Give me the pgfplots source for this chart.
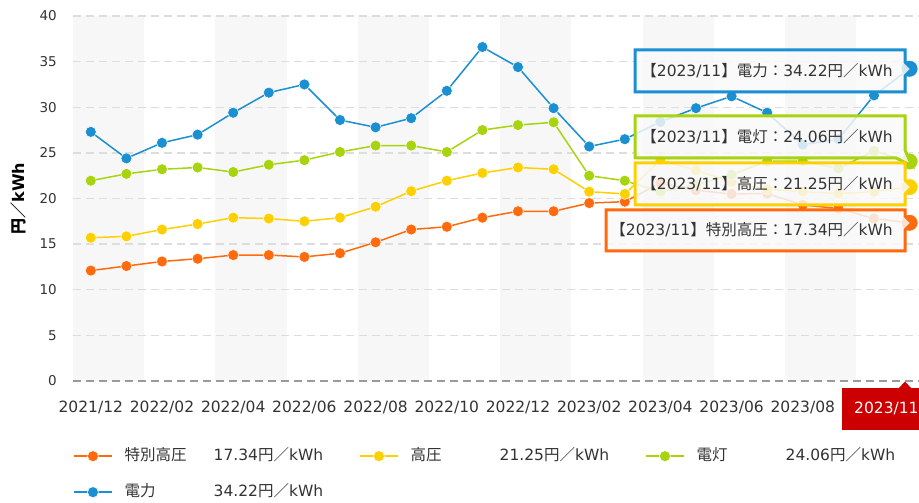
\documentclass[border=0pt]{standalone}
\usepackage{pgfplots}
\pgfplotsset{compat=1.18}
\usepackage{pgfplotstable}
\usepackage{fontspec}
\setmainfont{DejaVu Sans}
\newfontfamily\jp{Noto Sans CJK JP}
\usetikzlibrary{shadows}

\definecolor{cOr}{HTML}{FF6A0D}
\definecolor{cYe}{HTML}{FFD000}
\definecolor{cGr}{HTML}{A8D30F}
\definecolor{cBl}{HTML}{1A8FD2}
\definecolor{cRed}{HTML}{CC0000}
\definecolor{cTxt}{HTML}{333333}
\definecolor{cGrid}{HTML}{DDDDDD}
\definecolor{cZero}{HTML}{9A9A9A}
\definecolor{cBand}{HTML}{F7F7F7}

\pgfplotstableread{
m tok koatsu dento denryoku
0 12.1 15.7 21.95 27.3
1 12.6 15.85 22.7 24.4
2 13.1 16.6 23.2 26.1
3 13.4 17.2 23.4 27.0
4 13.8 17.9 22.9 29.4
5 13.8 17.8 23.7 31.6
6 13.6 17.5 24.2 32.5
7 14.0 17.9 25.1 28.6
8 15.2 19.1 25.8 27.8
9 16.6 20.8 25.8 28.8
10 16.9 21.95 25.1 31.8
11 17.9 22.8 27.5 36.6
12 18.6 23.4 28.05 34.4
13 18.6 23.2 28.35 29.9
14 19.5 20.75 22.5 25.7
15 19.65 20.5 21.95 26.5
16 21.7 24.2 20.75 28.4
17 20.9 23.1 21.5 29.9
18 20.5 21.8 22.6 31.2
19 20.55 21.0 24.1 29.4
20 19.3 20.75 24.1 25.9
21 18.9 20.55 23.3 26.5
22 17.8 20.75 25.2 31.3
23 17.34 21.25 24.06 34.22
}\data

\newcommand\PX[2]{([shift={({(#1-73)*1pt},{(381-#2)*1pt})}]rel axis cs:0,0)}
\newcommand\tipfont{\fontsize{15.5}{18}\selectfont}

\begin{document}
\begin{tikzpicture}
\begin{axis}[
  set layers,
  scale only axis, width=854.4pt, height=365pt,
  xmin=-0.5, xmax=23.5, ymin=0, ymax=40,
  clip=false,
  axis line style={draw=none},
  major tick length=0pt,
  xtick={0,2,...,20},
  xticklabels={2021/12,2022/02,2022/04,2022/06,2022/08,2022/10,2022/12,2023/02,2023/04,2023/06,2023/08},
  ytick={5,10,...,40},
  extra y ticks={0},
  extra y tick style={ymajorgrids=true, grid style={color=cZero, dash pattern=on 8pt off 5pt, line width=1.3pt}},
  ymajorgrids,
  grid style={color=cGrid, dash pattern=on 8pt off 5pt, line width=1.3pt},
  /pgf/number format/assume math mode=true,
  x tick label style={font=\fontsize{15.5}{18}\selectfont, text=cTxt, anchor=base, inner sep=0pt, yshift=-32pt},
  y tick label style={font=\fontsize{13.5}{16}\selectfont, text=cTxt, anchor=east, inner sep=0pt, xshift=-16pt},
  ylabel={{\jp\bfseries 円／}\textbf{kWh}},
  ylabel style={at={(axis description cs:-0.0644,0.5)}, anchor=center, font=\fontsize{16}{18}\selectfont},
  legend columns=3,
  legend cell align=left,
  legend image code/.code={\draw[mark repeat=2,mark phase=2,#1] plot coordinates {(0pt,0pt) (19pt,0pt) (38pt,0pt)};},
  legend style={draw=none, fill=none, at={(0,-0.1849)}, anchor=north west, inner sep=0pt, row sep=21pt, column sep=0pt,
    font=\fontsize{15.5}{18}\selectfont,
    nodes={inner sep=0pt, text height=12pt, text depth=3pt, text=cTxt},
    /tikz/every odd column/.append style={column sep=12pt}},
]
\begin{pgfonlayer}{axis background}
  \fill[cBand] (axis cs:-0.5,0) rectangle (axis cs:1.5,40);
  \fill[cBand] (axis cs:3.5,0) rectangle (axis cs:5.5,40);
  \fill[cBand] (axis cs:7.5,0) rectangle (axis cs:9.5,40);
  \fill[cBand] (axis cs:11.5,0) rectangle (axis cs:13.5,40);
  \fill[cBand] (axis cs:15.5,0) rectangle (axis cs:17.5,40);
  \fill[cBand] (axis cs:19.5,0) rectangle (axis cs:21.5,40);
\end{pgfonlayer}

\addplot[cOr, line width=1.5pt, mark=*, mark size=5.5pt, mark options={fill=cOr, draw=white, line width=0.5pt}] table[x=m,y=tok]{\data};
\addlegendentry{\makebox[234.5pt][l]{\makebox[89pt][l]{\jp 特別高圧}17.34{\jp 円／}kWh}}
\addplot[cYe, line width=1.5pt, mark=*, mark size=5.5pt, mark options={fill=cYe, draw=white, line width=0.5pt}] table[x=m,y=koatsu]{\data};
\addlegendentry{\makebox[234.5pt][l]{\makebox[89pt][l]{\jp 高圧}21.25{\jp 円／}kWh}}
\addplot[cGr, line width=1.5pt, mark=*, mark size=5.5pt, mark options={fill=cGr, draw=white, line width=0.5pt}] table[x=m,y=dento]{\data};
\addlegendentry{\makebox[234.5pt][l]{\makebox[89pt][l]{\jp 電灯}24.06{\jp 円／}kWh}}
\addplot[cBl, line width=1.5pt, mark=*, mark size=5.5pt, mark options={fill=cBl, draw=white, line width=0.5pt}] table[x=m,y=denryoku]{\data};
\addlegendentry{\makebox[234.5pt][l]{\makebox[89pt][l]{\jp 電力}34.22{\jp 円／}kWh}}

% tooltips
\begin{pgfonlayer}{axis descriptions}
\draw[cBl, line width=3pt, fill=white, fill opacity=0.8, line join=miter, drop shadow={shadow xshift=1.5pt, shadow yshift=-1.5pt, opacity=0.2}]
  \PX{635}{50} -- \PX{905}{50} -- \PX{905}{62} -- \PX{912}{69} -- \PX{905}{76} -- \PX{905}{92} -- \PX{635}{92} -- cycle;
\node[anchor=east, text=cTxt, font=\tipfont, inner sep=0pt] at \PX{893}{71} {{\jp 【}2023/11{\jp 】電力：}34.22{\jp 円／}kWh};

\draw[cGr, line width=3pt, fill=white, fill opacity=0.8, line join=miter, drop shadow={shadow xshift=1.5pt, shadow yshift=-1.5pt, opacity=0.2}]
  \PX{635}{116} -- \PX{905}{116} -- \PX{905}{150} -- \PX{912}{166} -- \PX{896}{158} -- \PX{635}{158} -- cycle;
\node[anchor=east, text=cTxt, font=\tipfont, inner sep=0pt] at \PX{893}{137} {{\jp 【}2023/11{\jp 】電灯：}24.06{\jp 円／}kWh};

\draw[cYe, line width=3pt, fill=white, fill opacity=0.8, line join=miter, drop shadow={shadow xshift=1.5pt, shadow yshift=-1.5pt, opacity=0.2}]
  \PX{635}{163} -- \PX{905}{163} -- \PX{905}{180} -- \PX{912}{187} -- \PX{905}{194} -- \PX{905}{205} -- \PX{635}{205} -- cycle;
\node[anchor=east, text=cTxt, font=\tipfont, inner sep=0pt] at \PX{893}{184} {{\jp 【}2023/11{\jp 】高圧：}21.25{\jp 円／}kWh};

\draw[cOr, line width=3pt, fill=white, fill opacity=0.8, line join=miter, drop shadow={shadow xshift=1.5pt, shadow yshift=-1.5pt, opacity=0.2}]
  \PX{606}{210} -- \PX{905}{210} -- \PX{905}{216} -- \PX{912}{223} -- \PX{905}{230} -- \PX{905}{251} -- \PX{606}{251} -- cycle;
\node[anchor=east, text=cTxt, font=\tipfont, inner sep=0pt] at \PX{893}{230} {{\jp 【}2023/11{\jp 】特別高圧：}17.34{\jp 円／}kWh};

% highlighted x label
\fill[cRed] \PX{842}{388.5} rectangle \PX{930}{430};
\fill[cRed] \PX{898}{389} -- \PX{905}{381.5} -- \PX{912}{389} -- cycle;
\node[anchor=base west, text=white, font=\fontsize{15.5}{18}\selectfont, inner sep=0pt] at \PX{854}{413.3} {2023/11};
\end{pgfonlayer}

% highlighted last points
\addplot[forget plot, on layer=axis foreground, only marks, mark=*, mark size=8.5pt, mark options={fill=cOr, draw=white, line width=0.8pt}] coordinates {(23,17.34)};
\addplot[forget plot, on layer=axis foreground, only marks, mark=*, mark size=8.5pt, mark options={fill=cYe, draw=white, line width=0.8pt}] coordinates {(23,21.25)};
\addplot[forget plot, on layer=axis foreground, only marks, mark=*, mark size=8.5pt, mark options={fill=cGr, draw=white, line width=0.8pt}] coordinates {(23,24.06)};
\addplot[forget plot, on layer=axis foreground, only marks, mark=*, mark size=8.5pt, mark options={fill=cBl, draw=white, line width=0.8pt}] coordinates {(23,34.22)};
\end{axis}
\pgfresetboundingbox
\path[use as bounding box] ([shift={(-73pt,-122pt)}]current axis.south west) rectangle ([shift={(846pt,381pt)}]current axis.south west);
\end{tikzpicture}
\end{document}
